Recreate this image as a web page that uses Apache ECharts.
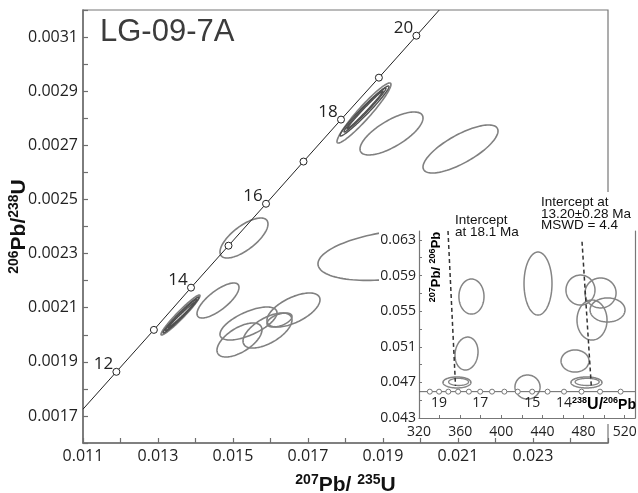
<!DOCTYPE html>
<html><head><meta charset="utf-8">
<script src="https://cdn.jsdelivr.net/npm/echarts@6/dist/echarts.min.js"></script>
<style>html,body{margin:0;padding:0;background:#fff}#c{width:638px;height:493px}</style>
</head><body><div id="c"></div>
<script>
// ---------- main diagram (207Pb/235U vs 206Pb/238U) ----------
const xLabels = [0.011, 0.013, 0.015, 0.017, 0.019, 0.021, 0.023];
const xTicks = [0.011, 0.012, 0.013, 0.014, 0.015, 0.016, 0.017, 0.018, 0.019, 0.020, 0.021, 0.022, 0.023, 0.024, 0.025];
const yLabels = [0.0017, 0.0019, 0.0021, 0.0023, 0.0025, 0.0027, 0.0029, 0.0031];
const yTicks = [0.0016, 0.0017, 0.0018, 0.0019, 0.0020, 0.0021, 0.0022, 0.0023, 0.0024, 0.0025, 0.0026, 0.0027, 0.0028, 0.0029, 0.0030, 0.0031, 0.0032];

const concordiaStart = [0.011, 0.001725];
const concordiaEnd = [0.0205, 0.0032];
const concordiaAges = [12, 13, 14, 15, 16, 17, 18, 19, 20];
const concordiaX = [0.01189, 0.01289, 0.01388, 0.01488, 0.01588, 0.01688, 0.01788, 0.01889, 0.01989];
const concordiaY = [0.001863, 0.002018, 0.002174, 0.002329, 0.002484, 0.002640, 0.002795, 0.002950, 0.003105];
const labeledAges = [12, 14, 16, 18, 20];

// [centre x, centre y, half-width x, half-height y, correlation]
const mainEllipses = [
  [0.015293, 0.0023575, 0.00064, 0.0000739, 0.70],
  [0.014600, 0.0021266, 0.00056, 0.0000647, 0.75],
  [0.015413, 0.0020416, 0.00076, 0.0000610, 0.65],
  [0.015173, 0.0019806, 0.00060, 0.0000628, 0.60],
  [0.015920, 0.0020157, 0.000653, 0.0000647, 0.60],
  [0.016613, 0.0020915, 0.000707, 0.0000628, 0.60],
  [0.016240, 0.0020545, 0.000333, 0.0000259, 0.50],
  [0.019293, 0.0022950, 0.002027, 0.0000942, 0.35],
  [0.019227, 0.0027437, 0.00084, 0.0000794, 0.72],
  [0.021067, 0.0026864, 0.00100, 0.0000887, 0.75],
  [0.018493, 0.0028194, 0.00072, 0.0001109, 0.95],
  [0.013600, 0.0020730, 0.00052, 0.0000739, 0.965]
];
const nestedEllipses = [
  [0.018507, 0.0028268, 0.000653, 0.0000924, 0.975],
  [0.018520, 0.0028305, 0.000560, 0.0000813, 0.985],
  [0.018520, 0.0028305, 0.000480, 0.0000702, 0.992],
  [0.013613, 0.0020730, 0.000480, 0.0000665, 0.980],
  [0.013613, 0.0020730, 0.000427, 0.0000591, 0.988],
  [0.013627, 0.0020730, 0.000360, 0.0000480, 0.993]
];

// ---------- inset (Tera-Wasserburg) ----------
const insetXLabels = [320, 360, 400, 440, 480, 520];
const insetXTicks = [320, 340, 360, 380, 400, 420, 440, 460, 480, 500, 520];
const insetYLabels = [0.043, 0.047, 0.051, 0.055, 0.059, 0.063];
const insetYTicks = [0.043, 0.045, 0.047, 0.049, 0.051, 0.053, 0.055, 0.057, 0.059, 0.061, 0.063];
const twAges = [19.5, 19, 18.5, 18, 17.5, 17, 16.5, 16, 15.5, 15, 14.5, 14, 13.5, 13, 12.5];
const twX = [330.5, 339.5, 348.5, 358, 368.5, 379.5, 391, 403, 416, 430, 445, 461, 478, 496, 516];
const twY = 0.04596;
const twLineX = [320, 530];
const twLabeledAges = [19, 17, 15, 14];
const insetEllipses = [
  [371.0, 0.05664, 12.2, 0.00197, 0],
  [366.2, 0.05024, 11.2, 0.00185, 0.1],
  [356.9, 0.04699, 13.6, 0.00062, 0],
  [435.7, 0.05810, 13.6, 0.00354, 0],
  [425.5, 0.04648, 12.2, 0.00135, 0],
  [471.7, 0.04940, 13.6, 0.00124, 0],
  [482.8, 0.04699, 15.1, 0.00062, 0],
  [477.0, 0.05737, 14.1, 0.00168, 0],
  [496.5, 0.05704, 15.1, 0.00168, 0],
  [503.3, 0.05513, 17.0, 0.00135, 0],
  [488.2, 0.05400, 14.6, 0.00225, 0]
];
const insetNested = [
  [358.5, 0.04705, 9.7, 0.00040, 0],
  [483.5, 0.04705, 11.7, 0.00040, 0]
];
const intercept18 = [[348.2, 0.0640], [355.5, 0.0466]];
const intercept13 = [[478.5, 0.0628], [487.5, 0.0466]];

// ---------- helpers ----------
function ellipseRender(color, width) {
  return function (params, api) {
    const cx = api.value(0), cy = api.value(1), sx = api.value(2), sy = api.value(3), r = api.value(4);
    const k = Math.sqrt(1 - r * r);
    const pts = [];
    const n = 120;
    for (let i = 0; i < n; i++) {
      const t = i / n * 2 * Math.PI;
      pts.push(api.coord([cx + sx * Math.cos(t), cy + sy * (r * Math.cos(t) + k * Math.sin(t))]));
    }
    return { type: 'polygon', shape: { points: pts }, style: { fill: 'none', stroke: color, lineWidth: width } };
  };
}
const TICKFONT = 'Open Sans';
const NAMEFONT = 'Liberation Sans';
const supRich = (sup, main, lh) => ({
  s: { fontSize: sup, fontWeight: 'bold', fontFamily: NAMEFONT, color: '#111', lineHeight: sup, verticalAlign: 'top' },
  b: { fontSize: main, fontWeight: 'bold', fontFamily: NAMEFONT, color: '#111', lineHeight: lh, verticalAlign: 'middle' }
});

const mainMarkers = concordiaX.map((x, i) => [x, concordiaY[i], concordiaAges[i]]);
const concordiaLine = [concordiaStart].concat(concordiaX.map((x, i) => [x, concordiaY[i]])).concat([concordiaEnd]);
const twMarkers = twX.map((x, i) => [x, twY, twAges[i]]);

const chart = echarts.init(document.getElementById('c'), null, { renderer: 'canvas' });
chart.setOption({
  animation: false,
  backgroundColor: '#fff',
  title: {
    text: 'LG-09-7A', left: 95, top: 12,
    textStyle: { fontFamily: NAMEFONT, fontSize: 31, fontWeight: 'normal', color: '#3c3c3c' }
  },
  grid: [
    { left: 83, top: 10, width: 525, height: 433, show: true, borderColor: '#777', borderWidth: 1.2, backgroundColor: 'transparent', containLabel: false, outerBoundsMode: 'none' },
    { left: 419, top: 231, width: 216, height: 187, containLabel: false, outerBoundsMode: 'none' }
  ],
  xAxis: [
    {
      gridIndex: 0, type: 'value', min: 0.011, max: 0.025,
      axisLine: { lineStyle: { color: '#6e6e6e', width: 1.5 } },
      axisTick: { inside: true, length: 5, customValues: xTicks, lineStyle: { color: '#6e6e6e', width: 1.2 } },
      axisLabel: { customValues: xLabels, formatter: v => v.toFixed(3), fontFamily: TICKFONT, fontSize: 16, color: '#222', margin: 5 },
      splitLine: { show: false },
      name: '{s|207}{b|Pb/ }{s|235}{b|U}', nameLocation: 'middle', nameGap: 30, nameMoveOverlap: false,
      nameTextStyle: { rich: supRich(14, 21, 24) }
    },
    {
      gridIndex: 1, type: 'value', min: 320, max: 530, z: 20,
      axisLine: { lineStyle: { color: '#777', width: 1.2 } },
      axisTick: { inside: true, length: 3, customValues: insetXTicks, lineStyle: { color: '#777' } },
      axisLabel: { customValues: insetXLabels, fontFamily: TICKFONT, fontSize: 14, color: '#222', margin: 7 },
      splitLine: { show: false }
    }
  ],
  yAxis: [
    {
      gridIndex: 0, type: 'value', min: 0.0016, max: 0.0032,
      axisLine: { lineStyle: { color: '#6e6e6e', width: 1.5 } },
      axisTick: { inside: true, length: 5, customValues: yTicks, lineStyle: { color: '#6e6e6e', width: 1.2 } },
      axisLabel: { customValues: yLabels, formatter: v => v.toFixed(4), fontFamily: TICKFONT, fontSize: 16, color: '#222', margin: 5 },
      splitLine: { show: false },
      name: '{s|206}{b|Pb/}{s|238}{b|U}', nameLocation: 'middle', nameGap: 52, nameMoveOverlap: false,
      nameTextStyle: { rich: supRich(14, 21, 24) }
    },
    {
      gridIndex: 1, type: 'value', min: 0.043, max: 0.064, z: 20,
      axisLine: { lineStyle: { color: '#777', width: 1.2 } },
      axisTick: { inside: true, length: 3, customValues: insetYTicks, lineStyle: { color: '#777' } },
      axisLabel: { customValues: insetYLabels, formatter: v => v.toFixed(3), fontFamily: TICKFONT, fontSize: 14, color: '#222', margin: 3 },
      splitLine: { show: false }
    },
    {
      gridIndex: 1, type: 'value', min: 0.043, max: 0.064, position: 'right', z: 20,
      axisLine: { show: true, lineStyle: { color: '#777', width: 1.2 } },
      axisTick: { show: false }, axisLabel: { show: false }, splitLine: { show: false }
    }
  ],
  graphic: [
    { type: 'rect', shape: { x: 379, y: 192, width: 259, height: 232 }, style: { fill: '#fff' }, z: 10 },
    {
      type: 'text', x: 455, y: 215, z: 30,
      style: { text: 'Intercept\nat 18.1 Ma', fontFamily: NAMEFONT, fontSize: 13.5, lineHeight: 11.5, fill: '#111' }
    },
    {
      type: 'text', x: 541, y: 197, z: 30,
      style: { text: 'Intercept at\n13.20\u00b10.28 Ma\nMSWD = 4.4', fontFamily: NAMEFONT, fontSize: 13.5, lineHeight: 11.5, fill: '#111' }
    },
    {
      type: 'text', x: 436, y: 267, rotation: Math.PI / 2, z: 30,
      style: {
        text: '{s|207}{b|Pb/ }{s|206}{b|Pb}', align: 'center', verticalAlign: 'middle',
        rich: supRich(9, 13, 15)
      }
    },
    {
      type: 'text', x: 636, y: 405, z: 30,
      style: {
        text: '{s|238}{u|U/}{s|206}{p|Pb}', align: 'right', verticalAlign: 'middle',
        rich: {
          s: { fontSize: 9, fontWeight: 'bold', fontFamily: NAMEFONT, color: '#111', lineHeight: 9, verticalAlign: 'top' },
          u: { fontSize: 16, fontWeight: 'bold', fontFamily: NAMEFONT, color: '#111', lineHeight: 18, verticalAlign: 'middle' },
          p: { fontSize: 14, fontWeight: 'bold', fontFamily: NAMEFONT, color: '#111', lineHeight: 18, verticalAlign: 'middle' }
        }
      }
    }
  ],
  series: [
    {
      type: 'custom', xAxisIndex: 0, yAxisIndex: 0, z: 2,
      renderItem: ellipseRender('#808080', 1.6), data: mainEllipses, encode: { x: 0, y: 1 }
    },
    {
      type: 'custom', xAxisIndex: 0, yAxisIndex: 0, z: 3,
      renderItem: ellipseRender('#505050', 1.4), data: nestedEllipses, encode: { x: 0, y: 1 }
    },
    {
      type: 'line', xAxisIndex: 0, yAxisIndex: 0, z: 4, data: concordiaLine, symbol: 'none',
      lineStyle: { color: '#222', width: 1 }
    },
    {
      type: 'scatter', xAxisIndex: 0, yAxisIndex: 0, z: 5, data: mainMarkers, symbol: 'circle', symbolSize: 7,
      itemStyle: { color: '#fff', borderColor: '#222', borderWidth: 1, opacity: 1 },
      label: {
        show: true, position: 'top', offset: [-13, 10],
        formatter: p => labeledAges.includes(p.value[2]) ? String(p.value[2]) : '',
        fontFamily: TICKFONT, fontSize: 17, color: '#222'
      }
    },
    {
      type: 'custom', xAxisIndex: 1, yAxisIndex: 1, z: 20,
      renderItem: ellipseRender('#858585', 1.5), data: insetEllipses, encode: { x: 0, y: 1 }
    },
    {
      type: 'custom', xAxisIndex: 1, yAxisIndex: 1, z: 20,
      renderItem: ellipseRender('#858585', 1.3), data: insetNested, encode: { x: 0, y: 1 }
    },
    {
      type: 'line', xAxisIndex: 1, yAxisIndex: 1, z: 21, symbol: 'none',
      data: twLineX.map(x => [x, twY]), lineStyle: { color: '#666', width: 1 }
    },
    {
      type: 'scatter', xAxisIndex: 1, yAxisIndex: 1, z: 22, data: twMarkers, symbol: 'circle', symbolSize: 5,
      itemStyle: { color: '#fff', borderColor: '#777', borderWidth: 1, opacity: 1 },
      label: {
        show: true, position: 'bottom', distance: 1,
        formatter: p => twLabeledAges.includes(p.value[2]) ? String(p.value[2]) : '',
        fontFamily: TICKFONT, fontSize: 14, color: '#222'
      }
    },
    {
      type: 'line', xAxisIndex: 1, yAxisIndex: 1, z: 21, symbol: 'none', data: intercept18,
      lineStyle: { color: '#333', width: 1.5, type: [4, 3] }
    },
    {
      type: 'line', xAxisIndex: 1, yAxisIndex: 1, z: 21, symbol: 'none', data: intercept13,
      lineStyle: { color: '#333', width: 1.5, type: [4, 3] }
    }
  ]
});
</script>
</body></html>
